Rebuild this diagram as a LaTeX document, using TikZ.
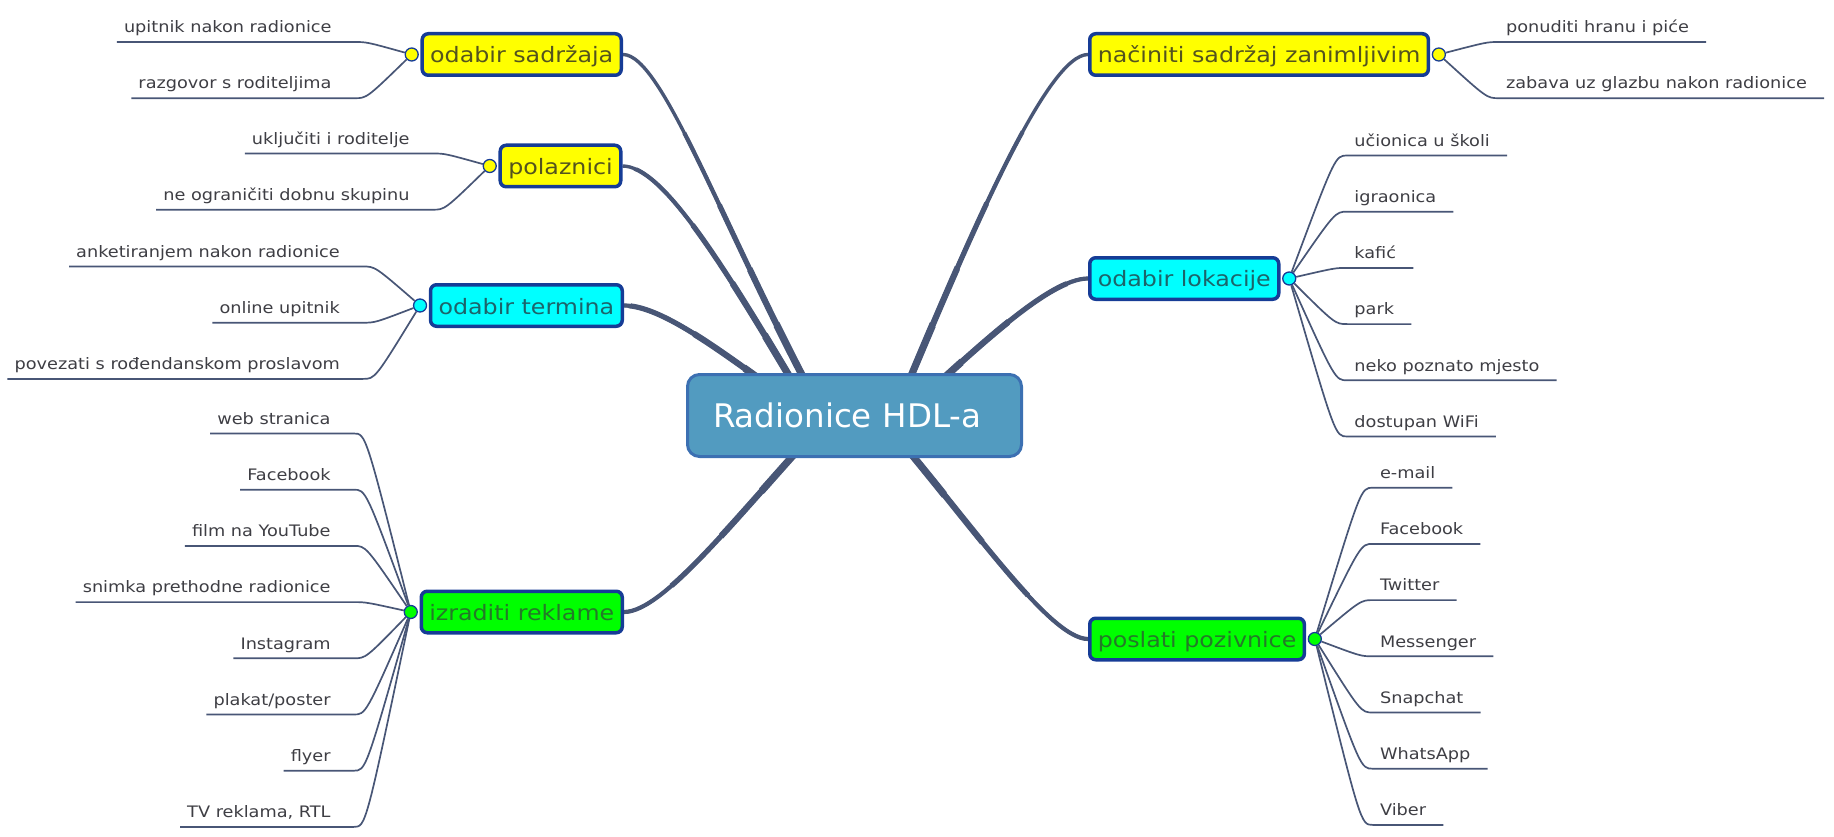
\documentclass[tikz,border=0pt]{standalone}
\usepackage{fontspec}
\setmainfont{DejaVu Sans}[FakeStretch=1.12]
\newfontfamily\rootfont{DejaVu Sans}
\usepackage{tikz}
\usetikzlibrary{positioning,backgrounds}

\definecolor{branchline}{RGB}{72,86,118}
\definecolor{boxedge}{RGB}{22,60,150}
\definecolor{rootfill}{RGB}{82,155,192}
\definecolor{rootedge}{RGB}{60,112,178}
\definecolor{leaftext}{RGB}{62,62,68}
\definecolor{topicyellow}{RGB}{255,255,0}
\definecolor{topiccyan}{RGB}{0,255,255}
\definecolor{topicgreen}{RGB}{0,255,0}
\definecolor{inkyellow}{RGB}{84,84,30}
\definecolor{inkcyan}{RGB}{28,100,106}
\definecolor{inkgreen}{RGB}{36,122,40}

\begin{document}
\begin{tikzpicture}[
		x=1pt, y=-1pt,
		node distance=28.8pt,
		rootbox/.style={
			rectangle,
			rounded corners=12pt,
			fill=rootfill,
			draw=rootedge,
			line width=3pt,
			text=white,
			text width=283pt,
			align=left,
			inner xsep=25.5pt,
			minimum height=82pt,
			font=\rootfont\fontsize{32.5}{38}\selectfont
		},
		topic/.style={
			rectangle,
			rounded corners=6pt,
			draw=boxedge,
			line width=3.5pt,
			inner xsep=8pt,
			inner ysep=10.25pt,
			text height=19pt,
			text depth=2pt,
			font=\fontsize{21.2}{25}\selectfont
		},
		knob/.style={
			circle,
			draw=boxedge,
			line width=1.3pt,
			minimum size=13pt,
			inner sep=0pt
		},
		leaf/.style={
			inner xsep=7pt,
			inner ysep=5pt,
			text height=13pt,
			text depth=4pt,
			text=leaftext,
			font=\fontsize{15.8}{18}\selectfont
		},
		stackL/.style={below=of #1.south east, anchor=north east},
		stackR/.style={below=of #1.south west, anchor=north west},
		mainline/.style={
			draw=branchline,
			line width=4.5pt
		},
		twigL/.style={
			draw=branchline,
			line width=1.7pt,
			to path={.. controls ([xshift=28pt]\tikztotarget.south east) .. ([xshift=16pt]\tikztotarget.south east) -- (\tikztotarget.south west)}
		},
		twigR/.style={
			draw=branchline,
			line width=1.7pt,
			to path={.. controls ([xshift=-12pt]\tikztotarget.south west) .. (\tikztotarget.south west) -- ([xshift=10pt]\tikztotarget.south east)}
		}
		]
		
		\useasboundingbox (0,0) rectangle (1834,837);
		
		% central topic
		\node[rootbox] (root) at (854.5,415.5) {Radionice HDL-a};
		
		% left topics
		\node[topic, fill=topicyellow, text=inkyellow, anchor=east] (sadrzaj) at (623,54.5) {odabir sadržaja};
		\node[topic, fill=topicyellow, text=inkyellow, anchor=east] (polaz) at (622.5,166) {polaznici};
		\node[topic, fill=topiccyan, text=inkcyan, anchor=east] (termin) at (624,305.5) {odabir termina};
		\node[topic, fill=topicgreen, text=inkgreen, anchor=east] (reklam) at (624,612) {izraditi reklame};
		
		% right topics
		\node[topic, fill=topicyellow, text=inkyellow, anchor=west] (zanim) at (1088,54.5) {načiniti sadržaj zanimljivim};
		\node[topic, fill=topiccyan, text=inkcyan, anchor=west] (lokac) at (1088,278.5) {odabir lokacije};
		\node[topic, fill=topicgreen, text=inkgreen, anchor=west] (poziv) at (1088,639) {poslati pozivnice};
		
		% knobs
		\node[knob, fill=topicyellow] (dSad) at ([xshift=-8.75pt]sadrzaj.west) {};
		\node[knob, fill=topicyellow] (dPol) at ([xshift=-8.75pt]polaz.west) {};
		\node[knob, fill=topiccyan] (dTer) at ([xshift=-8.75pt]termin.west) {};
		\node[knob, fill=topicgreen] (dRek) at ([xshift=-8.75pt]reklam.west) {};
		\node[knob, fill=topicyellow] (dZan) at ([xshift=8.75pt]zanim.east) {};
		\node[knob, fill=topiccyan] (dLok) at ([xshift=8.75pt]lokac.east) {};
		\node[knob, fill=topicgreen] (dPoz) at ([xshift=8.75pt]poziv.east) {};
		
		% odabir sadrzaja
		\node[leaf, anchor=south east] (sad1) at ([xshift=-73pt,yshift=12.5pt]dSad) {upitnik nakon radionice};
		\node[leaf, stackL=sad1] (sad2) {razgovor s roditeljima};
		
		% polaznici
		\node[leaf, anchor=south east] (pol1) at ([xshift=-73pt,yshift=12.5pt]dPol) {uključiti i roditelje};
		\node[leaf, stackL=pol1] (pol2) {ne ograničiti dobnu skupinu};
		
		% odabir termina
		\node[leaf, anchor=south east] (ter1) at ([xshift=-73pt,yshift=39pt]dTer) {anketiranjem nakon radionice};
		\node[leaf, stackL=ter1] (ter2) {online upitnik};
		\node[leaf, stackL=ter2] (ter3) {povezati s rođendanskom proslavom};
		
		% izraditi reklame
		\node[leaf, anchor=south east] (rek1) at ([xshift=-73pt,yshift=178.5pt]dRek) {web stranica};
		\node[leaf, stackL=rek1] (rek2) {Facebook};
		\node[leaf, stackL=rek2] (rek3) {film na YouTube};
		\node[leaf, stackL=rek3] (rek4) {snimka prethodne radionice};
		\node[leaf, stackL=rek4] (rek5) {Instagram};
		\node[leaf, stackL=rek5] (rek6) {plakat/poster};
		\node[leaf, stackL=rek6] (rek7) {flyer};
		\node[leaf, stackL=rek7] (rek8) {TV reklama, RTL};
		
		% naciniti sadrzaj zanimljivim
		\node[leaf, anchor=south west] (zan1) at ([xshift=60pt,yshift=12.5pt]dZan) {ponuditi hranu i piće};
		\node[leaf, stackR=zan1] (zan2) {zabava uz glazbu nakon radionice};
		
		% odabir lokacije
		\node[leaf, anchor=south west] (lok1) at ([xshift=58pt,yshift=123pt]dLok) {učionica u školi};
		\node[leaf, stackR=lok1] (lok2) {igraonica};
		\node[leaf, stackR=lok2] (lok3) {kafić};
		\node[leaf, stackR=lok3] (lok4) {park};
		\node[leaf, stackR=lok4] (lok5) {neko poznato mjesto};
		\node[leaf, stackR=lok5] (lok6) {dostupan WiFi};
		
		% poslati pozivnice
		\node[leaf, anchor=south west] (poz1) at ([xshift=58pt,yshift=151.3pt]dPoz) {e-mail};
		\node[leaf, stackR=poz1] (poz2) {Facebook};
		\node[leaf, stackR=poz2] (poz3) {Twitter};
		\node[leaf, stackR=poz3] (poz4) {Messenger};
		\node[leaf, stackR=poz4] (poz5) {Snapchat};
		\node[leaf, stackR=poz5] (poz6) {WhatsApp};
		\node[leaf, stackR=poz6] (poz7) {Viber};
		
		\begin{scope}[on background layer]
			% main branches, thicker towards the centre
			\foreach \w/\r in {3.4/1000, 4.2/330, 5.2/250, 6.2/180, 7.2/120}{
				\begin{scope}
					\clip (root.center) circle[radius=\r];
					\draw[mainline, line width=\w pt] ([xshift=-31pt]root.center) .. controls +(-100,-184) and +(40,0) .. (sadrzaj.east);
					\draw[mainline, line width=\w pt] ([xshift=-42pt]root.center) .. controls +(-90,-153) and +(40,0) .. (polaz.east);
					\draw[mainline, line width=\w pt] ([xshift=-45pt]root.center) .. controls +(-80,-58) and +(40,0) .. (termin.east);
					\draw[mainline, line width=\w pt] ([xshift=-25pt]root.center) .. controls +(-90,97) and +(40,0) .. (reklam.east);
					\draw[mainline, line width=\w pt] ([xshift=40pt]root.center) .. controls +(80,-192) and +(-40,0) .. (zanim.west);
					\draw[mainline, line width=\w pt] ([xshift=48pt]root.center) .. controls +(70,-63) and +(-40,0) .. (lokac.west);
					\draw[mainline, line width=\w pt] ([xshift=24pt]root.center) .. controls +(85,97) and +(-40,0) .. (poziv.west);
				\end{scope}
			}
			
			% twigs
			\draw[twigL] (dSad) to (sad1);
			\draw[twigL] (dSad) to (sad2);
			\draw[twigL] (dPol) to (pol1);
			\draw[twigL] (dPol) to (pol2);
			\draw[twigL] (dTer) to (ter1);
			\draw[twigL] (dTer) to (ter2);
			\draw[twigL] (dTer) to (ter3);
			\draw[twigL] (dRek) to (rek1);
			\draw[twigL] (dRek) to (rek2);
			\draw[twigL] (dRek) to (rek3);
			\draw[twigL] (dRek) to (rek4);
			\draw[twigL] (dRek) to (rek5);
			\draw[twigL] (dRek) to (rek6);
			\draw[twigL] (dRek) to (rek7);
			\draw[twigL] (dRek) to (rek8);
			\draw[twigR] (dZan) to (zan1);
			\draw[twigR] (dZan) to (zan2);
			\draw[twigR] (dLok) to (lok1);
			\draw[twigR] (dLok) to (lok2);
			\draw[twigR] (dLok) to (lok3);
			\draw[twigR] (dLok) to (lok4);
			\draw[twigR] (dLok) to (lok5);
			\draw[twigR] (dLok) to (lok6);
			\draw[twigR] (dPoz) to (poz1);
			\draw[twigR] (dPoz) to (poz2);
			\draw[twigR] (dPoz) to (poz3);
			\draw[twigR] (dPoz) to (poz4);
			\draw[twigR] (dPoz) to (poz5);
			\draw[twigR] (dPoz) to (poz6);
			\draw[twigR] (dPoz) to (poz7);
		\end{scope}
		
	\end{tikzpicture}
\end{document}
